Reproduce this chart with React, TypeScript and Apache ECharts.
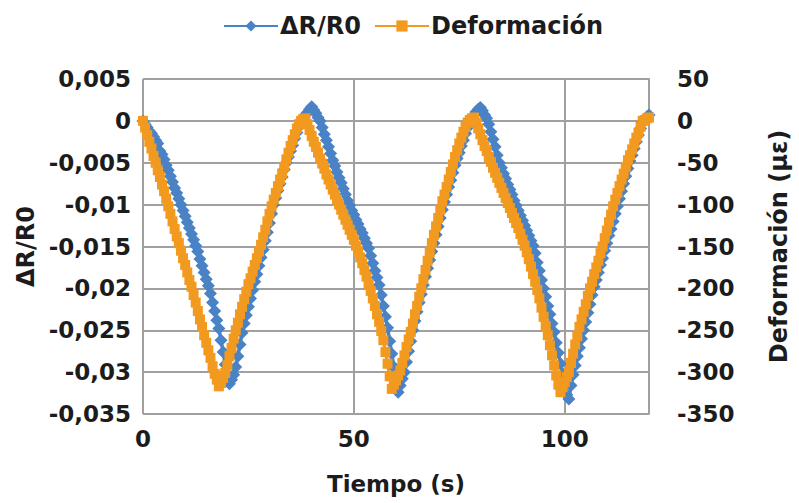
import React, { useEffect, useRef } from "react";
import * as echarts from "echarts";

// Sampling interval of the recorded data (seconds)
const SAMPLE_STEP_S = 0.5;

// Deformación (µε), one value every 0.5 s from t = 0 to t = 120 s
const deformation: number[] = [
  0, -8, -17, -25, -33, -42, -50, -59, -67, -76,
  -84, -93, -102, -111, -120, -129, -138, -146, -155, -164,
  -172, -181, -190, -198, -208, -217, -227, -237, -246, -256,
  -265, -274, -283, -293, -302, -309, -317, -313, -307, -301,
  -292, -281, -271, -260, -250, -241, -231, -222, -213, -204,
  -195, -188, -180, -172, -164, -156, -148, -139, -130, -120,
  -111, -102, -94, -86, -78, -70, -63, -55, -46, -38,
  -30, -23, -16, -9, -4, 0, 2, 3, -4, -11,
  -18, -25, -31, -38, -45, -51, -57, -64, -70, -76,
  -82, -88, -94, -100, -106, -112, -118, -124, -130, -136,
  -142, -149, -156, -163, -170, -178, -186, -195, -203, -212,
  -221, -231, -240, -251, -262, -276, -290, -305, -320, -315,
  -310, -304, -298, -289, -280, -270, -261, -252, -242, -231,
  -221, -210, -200, -189, -178, -167, -157, -146, -136, -126,
  -116, -106, -96, -88, -79, -70, -61, -52, -43, -35,
  -27, -20, -13, -7, -2, 1, 3, 4, -2, -9,
  -16, -23, -30, -36, -43, -49, -56, -62, -68, -74,
  -80, -86, -92, -98, -104, -110, -116, -122, -128, -135,
  -142, -149, -157, -165, -174, -183, -192, -202, -212, -223,
  -234, -245, -256, -268, -280, -292, -304, -315, -324, -318,
  -312, -306, -300, -289, -278, -267, -257, -246, -237, -228,
  -219, -209, -200, -192, -183, -175, -167, -158, -150, -140,
  -131, -121, -112, -102, -94, -86, -78, -70, -63, -55,
  -47, -41, -34, -27, -20, -14, -7, 0, 1, 3,
  4,
];

// ΔR/R0 expressed in units of 1e-4, one value every 0.5 s from t = 0 to t = 120 s
const deltaRe4: number[] = [
  0, -4, -8, -12, -15, -19, -23, -27, -36, -40,
  -46, -53, -59, -66, -73, -80, -86, -93, -100, -107,
  -114, -121, -128, -135, -142, -149, -156, -165, -173, -181,
  -189, -197, -206, -217, -227, -238, -248, -262, -276, -291,
  -304, -314, -309, -303, -294, -281, -267, -253, -242, -232,
  -222, -212, -202, -192, -183, -173, -163, -154, -143, -133,
  -122, -111, -100, -92, -83, -75, -67, -58, -50, -43,
  -36, -29, -21, -14, -7, 0, 3, 7, 10, 14,
  17, 13, 9, 4, 0, -8, -16, -23, -31, -39,
  -47, -54, -61, -68, -74, -81, -88, -95, -101, -107,
  -112, -118, -123, -129, -134, -140, -146, -152, -161, -170,
  -179, -187, -196, -208, -221, -234, -247, -263, -278, -294,
  -311, -324, -316, -308, -300, -288, -275, -263, -250, -239,
  -228, -217, -207, -196, -186, -176, -166, -156, -146, -136,
  -126, -116, -106, -97, -88, -79, -71, -62, -53, -45,
  -38, -30, -23, -15, -8, 0, 4, 7, 11, 14,
  16, 12, 7, 3, -4, -13, -22, -31, -41, -50,
  -56, -63, -69, -76, -82, -88, -95, -101, -107, -113,
  -119, -125, -131, -137, -143, -149, -158, -169, -179, -190,
  -200, -210, -221, -231, -242, -252, -265, -277, -290, -302,
  -315, -327, -332, -316, -303, -292, -281, -271, -260, -250,
  -240, -229, -219, -208, -198, -190, -181, -172, -164, -155,
  -146, -137, -129, -120, -111, -102, -93, -84, -75, -66,
  -57, -48, -41, -33, -25, -17, -9, -2, 2, 5,
  7,
];

const seriesNames = ["ΔR/R0", "Deformación"];
const axisNames = { x: "Tiempo (s)", left: "ΔR/R0", right: "Deformación (µε)" };
const xRange = { min: 0, max: 120, interval: 50 };
const leftRange = { min: -0.035, max: 0.005, interval: 0.005 };
const rightRange = { min: -350, max: 50, interval: 50 };

const BLUE = "#4a82c6";
const ORANGE = "#f29a1f";
const GRID = "#a0a0a0";
const TEXT = "#1c1c1c";
const FONT = "'DejaVu Sans', sans-serif";

export default function App() {
  const ref = useRef<HTMLDivElement>(null);

  useEffect(() => {
    if (!ref.current) return;
    const chart = echarts.init(ref.current, undefined, { renderer: "svg" });

    const blueData = deltaRe4.map((v, i) => [i * SAMPLE_STEP_S, v / 10000]);
    const orangeData = deformation.map((v, i) => [i * SAMPLE_STEP_S, v]);

    const labelStyle = {
      fontFamily: FONT,
      fontWeight: "bold" as const,
      fontSize: 23,
      color: TEXT,
    };

    chart.setOption({
      animation: false,
      backgroundColor: "#ffffff",
      legend: {
        top: 9,
        left: 218,
        itemWidth: 54,
        itemHeight: 14,
        itemGap: 13,
        textStyle: { ...labelStyle, fontSize: 24, padding: [0, 0, 0, -3] },
        data: seriesNames,
      },
      grid: { left: 143, right: 147, top: 79, bottom: 89, containLabel: false },
      xAxis: {
        type: "value",
        min: xRange.min,
        max: xRange.max,
        interval: xRange.interval,
        name: axisNames.x,
        nameLocation: "middle",
        nameGap: 58,
        nameTextStyle: { ...labelStyle },
        axisLine: { show: true, lineStyle: { color: GRID, width: 2 } },
        axisTick: { show: false },
        splitLine: { show: true, lineStyle: { color: GRID, width: 2 } },
        axisLabel: { ...labelStyle, margin: 13, showMaxLabel: false },
      },
      yAxis: [
        {
          type: "value",
          position: "left",
          min: leftRange.min,
          max: leftRange.max,
          interval: leftRange.interval,
          name: axisNames.left,
          nameLocation: "middle",
          nameGap: 98,
          nameRotate: 90,
          nameTextStyle: { ...labelStyle, fontSize: 24 },
          axisLine: { show: false },
          axisTick: { show: false },
          splitLine: { show: true, lineStyle: { color: GRID, width: 2 } },
          axisLabel: {
            ...labelStyle,
            margin: 12,
            formatter: (v: number) => {
              const r = Math.round(v * 1000) / 1000;
              return r === 0 ? "0" : String(r).replace(".", ",");
            },
          },
        },
        {
          type: "value",
          position: "right",
          min: rightRange.min,
          max: rightRange.max,
          interval: rightRange.interval,
          name: axisNames.right,
          nameLocation: "middle",
          nameGap: 118,
          nameRotate: 90,
          nameTextStyle: { ...labelStyle, fontSize: 24 },
          axisLine: { show: true, lineStyle: { color: GRID, width: 2 } },
          axisTick: { show: false },
          splitLine: { show: false },
          axisLabel: {
            ...labelStyle,
            margin: 28,
            formatter: (v: number) => String(Math.round(v)),
          },
        },
      ],
      series: [
        {
          name: seriesNames[0],
          type: "line",
          yAxisIndex: 0,
          data: blueData,
          symbol: "diamond",
          symbolSize: 13,
          showAllSymbol: true,
          lineStyle: { color: BLUE, width: 3.5 },
          itemStyle: { color: BLUE },
        },
        {
          name: seriesNames[1],
          type: "line",
          yAxisIndex: 1,
          data: orangeData,
          symbol: "rect",
          symbolSize: 10,
          showAllSymbol: true,
          lineStyle: { color: ORANGE, width: 3.5 },
          itemStyle: { color: ORANGE },
        },
      ],
    });

    return () => chart.dispose();
  }, []);

  return (
    <div
      ref={ref}
      style={{ position: "absolute", left: 0, top: 0, width: 799, height: 503 }}
    />
  );
}
